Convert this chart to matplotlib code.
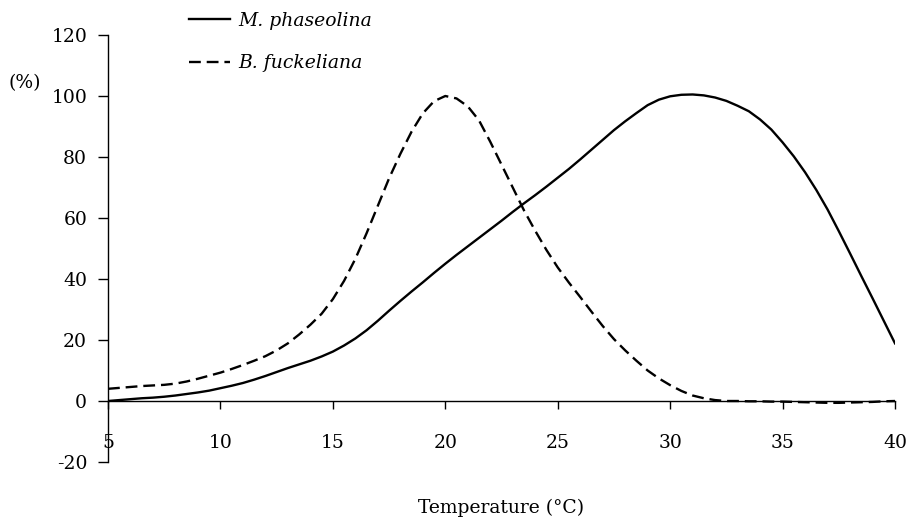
import matplotlib
matplotlib.use("Agg")
import matplotlib.pyplot as plt

temperature = [5, 5.5, 6, 6.5, 7, 7.5, 8, 8.5, 9, 9.5, 10, 10.5, 11, 11.5, 12, 12.5,
               13, 13.5, 14, 14.5, 15, 15.5, 16, 16.5, 17, 17.5, 18, 18.5, 19, 19.5,
               20, 20.5, 21, 21.5, 22, 22.5, 23, 23.5, 24, 24.5, 25, 25.5, 26, 26.5,
               27, 27.5, 28, 28.5, 29, 29.5, 30, 30.5, 31, 31.5, 32, 32.5, 33, 33.5,
               34, 34.5, 35, 35.5, 36, 36.5, 37, 37.5, 38, 38.5, 39, 39.5, 40]
m_phaseolina = [0, 0.3, 0.6, 0.9, 1.1, 1.4, 1.8, 2.3, 2.8, 3.4, 4.2, 5.0, 5.9, 7.0,
                8.2, 9.5, 10.8, 12.0, 13.2, 14.6, 16.2, 18.2, 20.5, 23.2, 26.3, 29.6,
                32.8, 35.9, 38.9, 42.0, 45.0, 47.9, 50.7, 53.5, 56.3, 59.1, 62.0, 64.8,
                67.5, 70.3, 73.2, 76.1, 79.2, 82.4, 85.6, 88.8, 91.7, 94.4, 97.0, 98.8,
                99.9, 100.4, 100.5, 100.2, 99.5, 98.4, 96.8, 95.0, 92.3, 89.0, 84.8,
                80.2, 75.0, 69.2, 62.8, 55.7, 48.4, 41.0, 33.7, 26.3, 18.9]
b_fuckeliana = [4.0, 4.3, 4.6, 4.9, 5.1, 5.3, 5.7, 6.4, 7.3, 8.3, 9.3, 10.5, 11.8,
                13.2, 14.7, 16.6, 18.9, 21.8, 25.0, 28.6, 33.4, 39.4, 46.6, 55.0, 64.0,
                73.0, 81.0, 88.3, 94.3, 98.3, 100.0, 99.2, 96.6, 92.0, 85.0, 77.5, 70.0,
                62.5, 55.8, 49.5, 43.8, 38.8, 34.1, 29.3, 24.6, 20.3, 16.6, 13.2, 10.0,
                7.4, 5.2, 3.3, 1.8, 0.9, 0.3, 0.0, 0.0, -0.1, -0.1, -0.2, -0.2, -0.3,
                -0.4, -0.5, -0.6, -0.6, -0.5, -0.4, -0.3, -0.1, 0.0]
x_ticks = [5, 10, 15, 20, 25, 30, 35, 40]
y_ticks = [-20, 0, 20, 40, 60, 80, 100, 120]
series_labels = ["M. phaseolina", "B. fuckeliana"]

plt.rcParams['font.family'] = ['DejaVu Serif']
plt.rcParams['axes.unicode_minus'] = False
FS = 13.5

fig = plt.figure(figsize=(9.08, 5.25), dpi=100)
ax = fig.add_axes([108/908, 63/525, 787/908, 427/525])

l1, = ax.plot(temperature, m_phaseolina, color='black', lw=1.7)
l2, = ax.plot(temperature, b_fuckeliana, color='black', lw=1.7, dashes=(5, 2.5))

ax.set_xlim(5, 40)
ax.set_ylim(-20, 120)
ax.spines['top'].set_visible(False)
ax.spines['right'].set_visible(False)
ax.spines['bottom'].set_position(('data', 0))
ax.spines['left'].set_linewidth(1.0)
ax.spines['bottom'].set_linewidth(1.0)

ax.set_xticks(x_ticks)
ax.set_yticks(y_ticks)
ax.tick_params(axis='x', direction='out', length=6, width=1.0, pad=18, labelsize=FS)
ax.tick_params(axis='y', direction='out', length=7, width=1.0, pad=8, labelsize=FS)

ax.set_xlabel("Temperature (°C)", fontsize=FS)
ax.xaxis.set_label_coords(0.5, -0.087)

fig.text(25/908, 1 - 83/525, "(%)", fontsize=FS, ha='center', va='center')

leg = fig.legend([l1, l2], series_labels, loc='upper left',
                 bbox_to_anchor=(189/908, 1 - 12/525), frameon=False,
                 prop={'style': 'italic', 'size': FS}, handlelength=2.2,
                 handletextpad=0.45, labelspacing=1.3, borderpad=0, borderaxespad=0)

fig.savefig("out.png", dpi=100)
